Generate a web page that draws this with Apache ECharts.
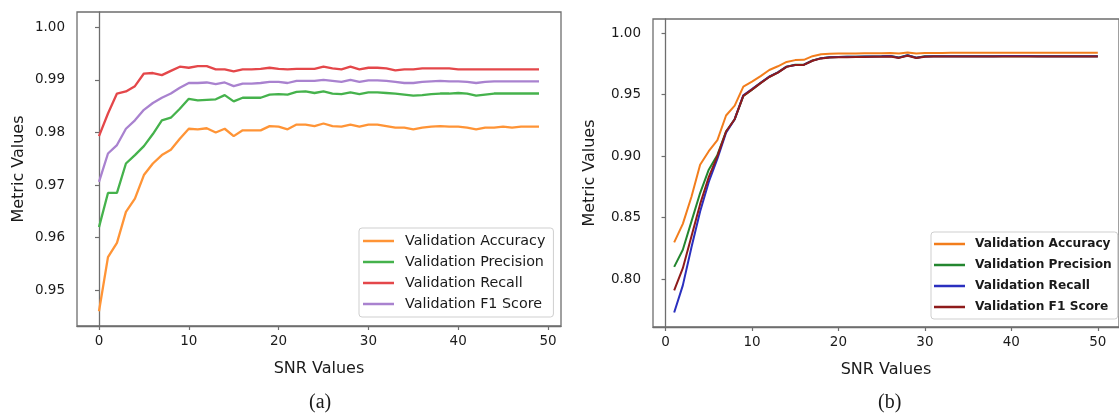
<!DOCTYPE html>
<html>
<head>
<meta charset="utf-8">
<script src="https://cdn.jsdelivr.net/npm/echarts@6/dist/echarts.min.js"></script>
<style>html,body{margin:0;padding:0;background:#fff}#c{width:1119px;height:415px}</style>
</head>
<body>
<div id="c"></div>
<script>
// ---------- data: panel (a) ----------
const snrA = [0,1,2,3,4,5,6,7,8,9,10,11,12,13,14,15,16,17,18,19,20,21,22,23,24,25,26,27,28,29,30,31,32,33,34,35,36,37,38,39,40,41,42,43,44,45,46,47,48,49];
const accA = [0.9460,0.9563,0.9590,0.9649,0.9674,0.9719,0.9741,0.9757,0.9767,0.9788,0.9807,0.9806,0.9808,0.9800,0.9807,0.9793,0.9804,0.9804,0.9804,0.9812,0.9811,0.9806,0.9815,0.9815,0.9812,
              0.9817,0.9812,0.9811,0.9815,0.9811,0.9815,0.9815,0.9812,0.9809,0.9809,0.9806,0.9809,0.9811,0.9812,0.9811,0.9811,0.9809,0.9806,0.9809,0.9809,0.9811,0.9809,0.9811,0.9811,0.9811];
const precA = [0.9620,0.9685,0.9685,0.9741,0.9757,0.9774,0.9797,0.9823,0.9828,0.9845,0.9864,0.9861,0.9862,0.9863,0.9871,0.9859,0.9866,0.9866,0.9866,0.9872,0.9873,0.9872,0.9877,0.9878,0.9875,
               0.9878,0.9874,0.9873,0.9876,0.9873,0.9876,0.9876,0.9875,0.9874,0.9872,0.9870,0.9871,0.9873,0.9874,0.9874,0.9875,0.9874,0.9870,0.9872,0.9874,0.9874,0.9874,0.9874,0.9874,0.9874];
const recA = [0.9793,0.9836,0.9874,0.9878,0.9888,0.9912,0.9913,0.9909,0.9917,0.9925,0.9923,0.9926,0.9926,0.9920,0.9920,0.9916,0.9920,0.9920,0.9921,0.9923,0.9921,0.9920,0.9921,0.9921,0.9921,
              0.9925,0.9922,0.9920,0.9925,0.9920,0.9923,0.9923,0.9922,0.9918,0.9920,0.9920,0.9922,0.9922,0.9922,0.9922,0.9920,0.9920,0.9920,0.9920,0.9920,0.9920,0.9920,0.9920,0.9920,0.9920];
const f1A = [0.9706,0.9760,0.9776,0.9807,0.9823,0.9843,0.9856,0.9866,0.9874,0.9885,0.9894,0.9894,0.9895,0.9892,0.9895,0.9888,0.9893,0.9893,0.9894,0.9896,0.9896,0.9894,0.9898,0.9898,0.9898,
             0.9900,0.9898,0.9896,0.9900,0.9896,0.9899,0.9899,0.9898,0.9896,0.9894,0.9894,0.9896,0.9897,0.9898,0.9897,0.9897,0.9896,0.9894,0.9896,0.9897,0.9897,0.9897,0.9897,0.9897,0.9897];

// ---------- data: panel (b) ----------
const snrB = [1,2,3,4,5,6,7,8,9,10,11,12,13,14,15,16,17,18,19,20,21,22,23,24,25,26,27,28,29,30,31,32,33,34,35,36,37,38,39,40,41,42,43,44,45,46,47,48,49,50];
const accB = [0.830,0.845,0.867,0.893,0.904,0.913,0.933,0.941,0.9565,0.9605,0.9650,0.9700,0.9730,0.9765,0.9780,0.9782,0.9812,0.9828,0.9832,0.9833,0.9833,0.9834,0.9835,0.9836,0.9836,0.9837,0.9833,0.9841,0.9834,0.9838,
              0.9838,0.9838,0.9839,0.9839,0.9839,0.9839,0.9840,0.9840,0.9840,0.9840,0.9840,0.9840,0.9840,0.9840,0.9840,0.9840,0.9840,0.9840,0.9840,0.9840];
const precB = [0.810,0.824,0.847,0.870,0.889,0.901,0.920,0.930,0.949,0.954,0.9595,0.9645,0.9680,0.9727,0.9742,0.9743,0.9777,0.9796,0.9804,0.9806,0.9807,0.9808,0.9809,0.9810,0.9811,0.9813,0.9801,0.9820,0.9800,0.9811,
               0.9812,0.9812,0.9812,0.9812,0.9812,0.9812,0.9812,0.9812,0.9812,0.9812,0.9812,0.9812,0.9812,0.9812,0.9812,0.9812,0.9812,0.9812,0.9812,0.9812];
const recB = [0.773,0.795,0.826,0.855,0.879,0.898,0.919,0.930,0.9495,0.9545,0.9596,0.9646,0.9681,0.9727,0.9741,0.9743,0.9776,0.9796,0.9803,0.9806,0.9807,0.9808,0.9809,0.9810,0.9811,0.9813,0.9800,0.9819,0.9799,0.9810,
              0.9811,0.9811,0.9812,0.9812,0.9812,0.9812,0.9812,0.9812,0.9813,0.9814,0.9814,0.9813,0.9812,0.9812,0.9812,0.9812,0.9812,0.9812,0.9812,0.9812];
const f1B = [0.791,0.809,0.835,0.861,0.883,0.900,0.920,0.930,0.949,0.954,0.9593,0.9643,0.9678,0.9725,0.9740,0.9741,0.9775,0.9794,0.9801,0.9803,0.9804,0.9805,0.9806,0.9807,0.9808,0.9810,0.9798,0.9816,0.9797,0.9808,
             0.9809,0.9809,0.9809,0.9809,0.9809,0.9809,0.9809,0.9809,0.9809,0.9809,0.9809,0.9809,0.9809,0.9809,0.9809,0.9809,0.9809,0.9809,0.9809,0.9809];

// ---------- tick labels ----------
const xTicks = [0,10,20,30,40,50];
const yTicksA = [0.95,0.96,0.97,0.98,0.99,1.00];
const yTicksB = [0.80,0.85,0.90,0.95,1.00];
const seriesNames = ['Validation Accuracy','Validation Precision','Validation Recall','Validation F1 Score'];

const colorsA = ['#ff9436','#45b24c','#e4474a','#a982cf'];
const colorsB = ['#f27d1c','#23862f','#2a2fbf','#8e1b1b'];

const axisGray = '#6e6e6e';
const textCol = '#1a1a1a';
const FONT = 'DejaVu Sans';

function xAxis(gi, min, max) {
  return {
    type: 'value', gridIndex: gi, min: min, max: max,
    name: 'SNR Values', nameLocation: 'middle', nameGap: 35,
    nameTextStyle: {color: textCol, fontSize: 16, fontFamily: FONT},
    axisLine: {show: true, lineStyle: {color: axisGray, width: 1.3}},
    axisTick: {show: true, length: 4, customValues: xTicks, lineStyle: {color: axisGray, width: 1.2}},
    axisLabel: {customValues: xTicks, margin: 8, color: textCol, fontSize: 13.5, fontFamily: FONT},
    splitLine: {show: false}
  };
}
function yAxis(gi, min, max, ticks, gap) {
  return {
    type: 'value', gridIndex: gi, min: min, max: max,
    name: 'Metric Values', nameLocation: 'middle', nameGap: gap, nameRotate: 90,
    nameTextStyle: {color: textCol, fontSize: 16, fontFamily: FONT},
    axisLine: {show: true, lineStyle: {color: axisGray, width: 1.3}},
    axisTick: {show: true, length: 4, customValues: ticks, lineStyle: {color: axisGray, width: 1.2}},
    axisLabel: {customValues: ticks, margin: 12, color: textCol, fontSize: 13.5, fontFamily: FONT,
                formatter: v => Number(v).toFixed(2)},
    splitLine: {show: false}
  };
}
function pairs(xs, ys) { return xs.map((x, i) => [x, ys[i]]); }

const dataA = [accA, precA, recA, f1A];
const dataB = [accB, precB, recB, f1B];
const series = [];
seriesNames.forEach((n, k) => {
  series.push({type: 'line', name: n, xAxisIndex: 0, yAxisIndex: 0, data: pairs(snrA, dataA[k]),
    showSymbol: false, symbol: 'none', color: colorsA[k], lineStyle: {width: 2.3, color: colorsA[k]}, z: 2 + k});
});
seriesNames.forEach((n, k) => {
  series.push({type: 'line', name: n + ' (b)', xAxisIndex: 1, yAxisIndex: 1, data: pairs(snrB, dataB[k]),
    showSymbol: false, symbol: 'none', color: colorsB[k], lineStyle: {width: 2, color: colorsB[k]}, z: 2 + k});
});

const legendBase = {
  orient: 'vertical', icon: 'rect', itemWidth: 31, itemHeight: 2.5,
  backgroundColor: '#fff', borderColor: '#cfcfcf', borderWidth: 1, borderRadius: 3,
  selectedMode: false
};

const chart = echarts.init(document.getElementById('c'), null, {renderer: 'canvas'});
chart.setOption({
  animation: false,
  backgroundColor: '#fff',
  grid: [
    {left: 77, top: 12, width: 484, height: 314, show: true, borderColor: axisGray, borderWidth: 1.3, backgroundColor: 'transparent'},
    {left: 653, top: 19, width: 474, height: 308, show: true, borderColor: axisGray, borderWidth: 1.3, backgroundColor: 'transparent'}
  ],
  xAxis: [xAxis(0, -2.45, 51.45), xAxis(1, -1.45, 52.45)],
  yAxis: [yAxis(0, 0.9432, 1.0029, yTicksA, 50), yAxis(1, 0.7612, 1.0114, yTicksB, 55)],
  legend: [
    Object.assign({}, legendBase, {
      left: 359, top: 228, itemGap: 7, padding: [6, 8, 6, 4],
      data: seriesNames,
      textStyle: {color: textCol, fontSize: 14.3, fontFamily: FONT, padding: [0, 0, 0, 6]}
    }),
    Object.assign({}, legendBase, {
      left: 931, top: 232, itemGap: 9, padding: [6, 6, 6, 3],
      data: seriesNames.map(n => n + ' (b)'),
      formatter: n => n.replace(' (b)', ''),
      textStyle: {color: textCol, fontSize: 12.2, fontWeight: 'bold', fontFamily: FONT, padding: [0, 0, 0, 5]}
    })
  ],
  graphic: [
    {type: 'text', left: 309, top: 393, style: {text: '(a)', fill: textCol, font: '20px "Liberation Serif"'}},
    {type: 'text', left: 878, top: 393, style: {text: '(b)', fill: textCol, font: '20px "Liberation Serif"'}}
  ],
  series: series
});
</script>
</body>
</html>
